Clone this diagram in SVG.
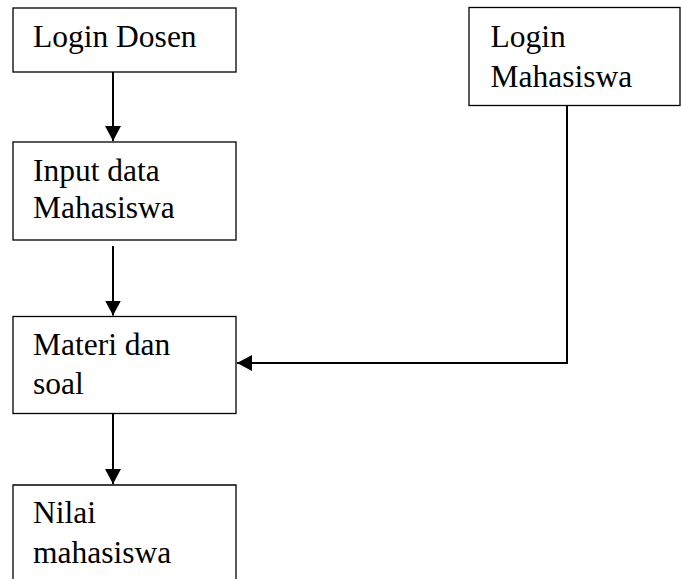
<svg xmlns="http://www.w3.org/2000/svg" width="681" height="579" viewBox="0 0 681 579">
<style>
.box{fill:#fff;stroke:#000;stroke-width:1.3}
.t{font-family:"Liberation Serif","Times New Roman",serif;font-size:31.5px;fill:#000}
.c{fill:none;stroke:#000;stroke-width:2}
</style>
<defs>
<marker id="ah" markerWidth="16" markerHeight="16" viewBox="0 0 16 16" refX="15" refY="8" orient="auto" markerUnits="userSpaceOnUse">
<path d="M0,0 L15,8 L0,16 Z" fill="#000"/>
</marker>
</defs>
<rect width="681" height="579" fill="#fff"/>
<g id="login-dosen">
<rect class="box" x="13" y="8" width="223" height="64"/>
<text class="t" x="33" y="46.5">Login Dosen</text>
</g>
<g id="input-data">
<rect class="box" x="13" y="142" width="223" height="98"/>
<text class="t" x="33" y="181">Input data</text>
<text class="t" x="33" y="217.5">Mahasiswa</text>
</g>
<g id="materi-soal">
<rect class="box" x="13" y="316.5" width="223" height="97"/>
<text class="t" x="33" y="355">Materi dan</text>
<text class="t" x="33" y="394">soal</text>
</g>
<g id="nilai">
<path class="box" d="M13,600 V485 H236 V600"/>
<text class="t" x="33" y="523">Nilai</text>
<text class="t" x="33" y="563">mahasiswa</text>
</g>
<g id="login-mahasiswa">
<rect class="box" x="469" y="7.5" width="211" height="98"/>
<text class="t" x="490.5" y="46.5">Login</text>
<text class="t" x="490.5" y="87">Mahasiswa</text>
</g>
<g id="connectors">
<path class="c" d="M113,72 V141" marker-end="url(#ah)"/>
<path class="c" d="M113,246 V315.5" marker-end="url(#ah)"/>
<path class="c" d="M113,413.5 V484" marker-end="url(#ah)"/>
<path class="c" d="M567,105.5 V363 H237" marker-end="url(#ah)"/>
</g>
</svg>
